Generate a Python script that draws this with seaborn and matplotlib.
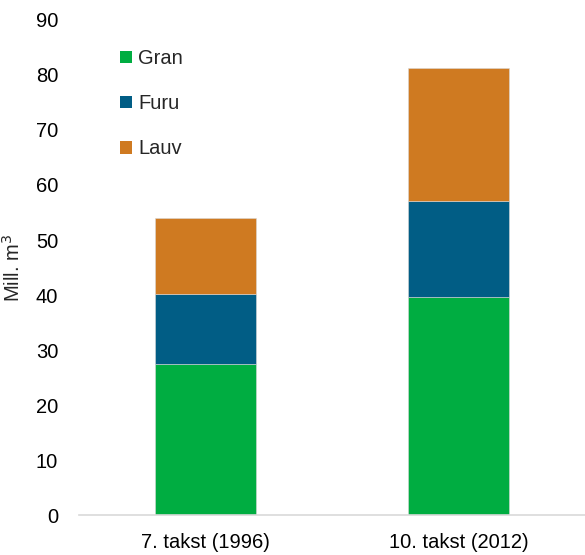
import seaborn as sns
import pandas as pd
import matplotlib.pyplot as plt
from matplotlib.patches import Patch

# data (Mill. m3)
takster = ["7. takst (1996)", "10. takst (2012)"]
gran = [27.5, 39.6]
furu = [12.6, 17.5]
lauv = [13.9, 24.2]

farger = {"Gran": "#00AD41", "Furu": "#015D85", "Lauv": "#CF7A21"}

sns.set_theme(style="white")
plt.rcParams["font.family"] = ["Liberation Sans", "DejaVu Sans"]
fs = 14.5

df = pd.DataFrame({"takst": takster, "Gran": gran, "Furu": furu, "Lauv": lauv})

fig = plt.figure(figsize=(5.85, 5.55), dpi=100)
ax = fig.add_axes([0.135, 0.072, 0.865, 0.892])

bunn = [0.0] * len(takster)
for art in ["Gran", "Furu", "Lauv"]:
    sns.barplot(data=df, x="takst", y=art, ax=ax, color=farger[art],
                bottom=bunn, width=0.4, saturation=1,
                edgecolor="#d8d8d8", linewidth=0.4)
    bunn = [b + v for b, v in zip(bunn, df[art])]

ax.set_xlim(-0.5, 1.5)
ax.set_ylim(0, 90)
ax.set_yticks(range(0, 91, 10))
ax.set_xlabel("")
ax.set_ylabel("Mill. m$^3$", fontsize=fs)
ax.yaxis.set_label_coords(-0.11, 0.5)
ax.tick_params(axis="both", labelsize=fs, length=0, colors="black")
ax.tick_params(axis="x", pad=13)
ax.tick_params(axis="y", pad=15)

for side in ["left", "right", "top"]:
    ax.spines[side].set_visible(False)
ax.spines["bottom"].set_color("#d9d9d9")
ax.spines["bottom"].set_linewidth(1.2)

handles = [Patch(facecolor=farger[k], edgecolor="none") for k in ["Gran", "Furu", "Lauv"]]
ax.legend(handles, ["Gran", "Furu", "Lauv"], loc="upper left",
          bbox_to_anchor=(120 / 585, 1 - 49 / 555), bbox_transform=fig.transFigure,
          frameon=False, handlelength=0.6, handleheight=0.6,
          handletextpad=0.3, labelspacing=1.3, borderpad=0, borderaxespad=0,
          fontsize=fs)

plt.savefig("out.png", dpi=100)
